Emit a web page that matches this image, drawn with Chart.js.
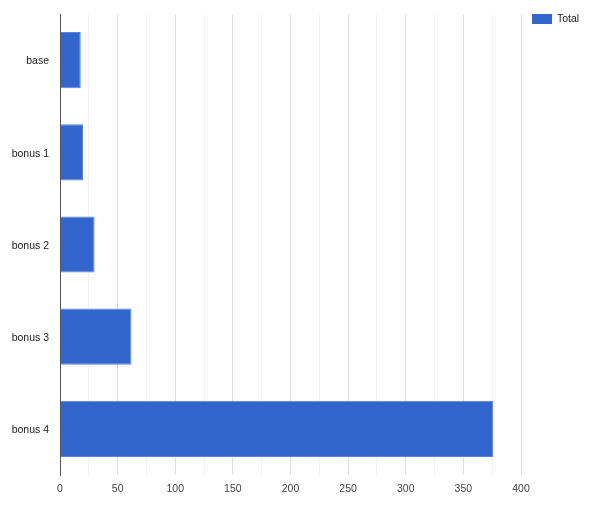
<!DOCTYPE html>
<html>
<head>
<meta charset="utf-8">
<script src="https://cdn.jsdelivr.net/npm/chart.js@4/dist/chart.umd.min.js"></script>
<style>
html,body{margin:0;padding:0;background:#fff;}
#wrap{width:600px;height:511px;position:relative;}
</style>
</head>
<body>
<div id="wrap"><canvas id="c" width="600" height="511"></canvas></div>
<script>
const categories = ["base", "bonus 1", "bonus 2", "bonus 3", "bonus 4"];
const totalValues = [18, 20, 30, 62, 376];
const seriesName = "Total";
const xMin = 0, xMax = 400, xStep = 25, labelStep = 50;

const legendPlugin = {
  id: 'cornerLegend',
  afterDraw(chart) {
    const ctx = chart.ctx;
    const ds = chart.data.datasets[0];
    ctx.save();
    ctx.fillStyle = ds.backgroundColor;
    ctx.fillRect(532, 14, 20, 10);
    ctx.fillStyle = '#222';
    ctx.font = '10.5px "Liberation Sans", Arial, sans-serif';
    ctx.textBaseline = 'middle';
    ctx.textAlign = 'left';
    ctx.fillText(ds.label, 557, 19.5);
    ctx.restore();
  }
};

new Chart(document.getElementById('c'), {
  type: 'bar',
  data: {
    labels: categories,
    datasets: [{
      label: seriesName,
      data: totalValues,
      backgroundColor: '#3366cc',
      borderColor: '#5a84dc',
      borderWidth: 1,
      categoryPercentage: 1,
      barPercentage: 0.61
    }]
  },
  options: {
    indexAxis: 'y',
    responsive: false,
    animation: false,
    layout: { padding: { top: 14, right: 79, left: 0, bottom: 0 } },
    plugins: { legend: { display: false }, tooltip: { enabled: false } },
    scales: {
      x: {
        min: xMin, max: xMax,
        afterFit(s) { s.height = 36; s.paddingLeft = 0; s.paddingRight = 0; },
        ticks: {
          stepSize: xStep,
          autoSkip: false,
          maxRotation: 0,
          padding: 8,
          color: '#444',
          font: { family: '"Liberation Sans", Arial, sans-serif', size: 10.5 },
          callback: v => (v % labelStep === 0 ? String(v) : '')
        },
        grid: {
          drawTicks: false,
          lineWidth: 1,
          color: ctx => {
            const v = ctx.tick ? ctx.tick.value : 0;
            if (v === 0) return 'rgba(0,0,0,0)';
            return v % labelStep === 0 ? '#e0e0e0' : '#f2f2f2';
          }
        },
        border: { display: false }
      },
      y: {
        afterFit(s) { s.width = 60; s.paddingTop = 0; s.paddingBottom = 0; },
        ticks: {
          padding: 11,
          labelOffset: 1.5,
          color: '#222',
          font: { family: '"Liberation Sans", Arial, sans-serif', size: 10.5 }
        },
        grid: { display: false, drawTicks: false },
        border: { display: true, color: '#555', width: 1 }
      }
    }
  },
  plugins: [legendPlugin]
});
</script>
</body>
</html>
